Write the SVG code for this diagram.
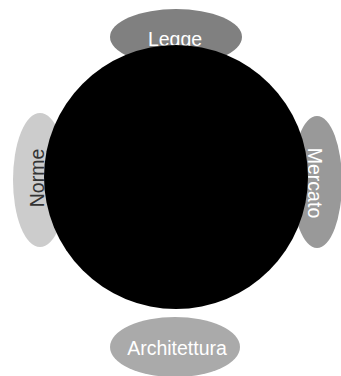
<svg xmlns="http://www.w3.org/2000/svg" width="341" height="376" viewBox="0 0 341 376">
<style>
text{font-family:"Liberation Sans",Arial,sans-serif;font-size:19.5px;text-anchor:middle}
.w{fill:#ffffff}
.d{fill:#333333}
</style>
<rect width="341" height="376" fill="#ffffff"/>
<g id="connectors"></g>
<g id="legge">
<ellipse cx="176" cy="37" rx="66" ry="28" fill="#808080"/>
<text class="w" x="175" y="46">Legge</text>
</g>
<g id="norme">
<ellipse cx="40" cy="180" rx="27" ry="67" fill="#cccccc"/>
<text class="d" x="0" y="0" transform="translate(44,178) rotate(-90)">Norme</text>
</g>
<g id="mercato">
<ellipse cx="317" cy="182" rx="25" ry="66" fill="#999999"/>
<text class="w" x="0" y="0" transform="translate(308,183) rotate(90)">Mercato</text>
</g>
<g id="architettura">
<ellipse cx="175" cy="347" rx="65" ry="30" fill="#aaaaaa"/>
<text class="w" x="177" y="355">Architettura</text>
</g>
<g id="centro">
<circle cx="176" cy="177" r="132" fill="#000000"/>
</g>
</svg>
